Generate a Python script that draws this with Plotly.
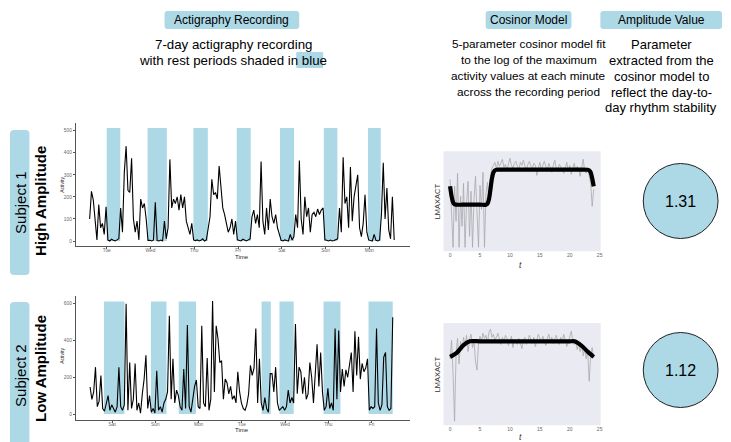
import plotly.graph_objects as go

W, H = 731, 442
FONT = "Liberation Sans, Arial, Helvetica, sans-serif"


def X(px):
    return px / W


def Y(py):
    return 1 - py / H


# ---------------- data ----------------
# Subject 1 actigraphy (hourly activity counts), first sample at day offset below
act1_start_day = -0.39
act1 = [100, 225, 185, 90, 5, 165, 60, 80, 30, 155,
        5, 0, 8, 3, 0, 5, 10,
        150, 40, 310, 430, 230, 220, 375, 100, 40, 90, 5, 190, 150, 170, 100,
        3,
        3, 0, 5, 175, 2, 0, 4, 0, 90, 10,
        60, 370, 150, 190, 170, 200, 140, 210, 150, 200, 90, 60, 30, 80,
        5, 2, 5, 0, 3, 10, 0, 5, 60,
        110, 280, 210, 220, 190, 340, 250, 150, 120, 70, 40, 60, 100, 30, 90, 5,
        3, 0, 8, 2, 0, 5, 10,
        110, 140, 80, 120, 60, 360, 90, 30, 150, 50, 190, 110, 80, 120, 60, 30,
        3, 0, 5, 2, 0, 30, 5, 20,
        120, 60, 365, 100, 30, 200, 110, 150, 40, 120, 130, 110, 145, 120, 140, 150, 5,
        3, 0, 4, 0, 2, 5, 10,
        150, 40, 380, 170, 200, 60, 335, 90, 200, 250, 300, 60, 20, 80, 210, 40, 5,
        2, 0, 30, 3, 0, 5, 120,
        355, 100, 240, 50, 10, 200, 5]
days1 = ["Tue", "Wed", "Thu", "Fri", "Sat", "Sun", "Mon"]
rest1_start = [0.0, 0.934, 1.98, 2.97, 3.96, 4.96, 5.97]
rest1_end = [0.31, 1.374, 2.31, 3.29, 4.28, 5.27, 6.26]
rest1_top = 512

# Subject 2 actigraphy
act2_start_day = -0.51
act2 = [147, 80, 120, 255, 40, 70, 210, 30, 15, 50,
        100, 20, 50, 30, 10, 40, 255, 40, 20, 50,
        600, 20, 280, 30, 80, 275, 20, 60, 5, 110,
        190, 320, 30, 100, 10, 30, 5, 235, 20, 40,
        10, 60, 80, 120, 535, 80, 300, 60, 130, 100,
        40, 20, 245, 30, 485, 40, 10, 80, 150, 185,
        40, 30, 480, 60, 40, 305, 20, 80, 615, 120,
        480, 410, 280, 290, 80, 190, 170, 110, 150, 80,
        100, 60, 230, 120, 60,
        30, 20, 50, 110, 265, 210, 250, 465, 60, 300,
        60, 20, 90, 30, 10, 220, 220, 120, 255, 60,
        20, 30, 40, 20, 40, 130, 60, 90, 60, 490,
        110, 255, 230, 110, 200, 80, 110, 280, 200, 60,
        210, 380, 150, 335, 120, 20, 40, 140, 30, 60,
        20, 465, 80, 455, 120, 245, 150, 240, 200, 270,
        335, 120, 450, 210, 420, 190, 275, 230, 250, 300,
        20, 40, 30, 40, 465, 60, 20, 50, 310, 335,
        40, 20, 30, 527]
days2 = ["Sat", "Sun", "Mon", "Tue", "Wed", "Thu", "Fri"]
rest2_start = [-0.19, 0.897, 1.54, 3.457, 3.87, 4.89, 5.93]
rest2_end = [0.285, 1.257, 1.94, 3.67, 4.2, 5.28, 6.49]
rest2_top = 613

# Cosinor panels: log max activity per time of day (every 15 min), arbitrary units
cos_step_h = 0.25
lmax1 = [7.2, 4.0, 0.4, 6.5, 3.0, 7.8, 0.4, 5.5, 2.5, 6.8, 0.4, 4.8, 7.0, 1.5, 6.0, 0.4,
         5.2, 7.5, 3.2, 0.4, 6.6, 4.2, 7.9, 0.4, 5.8, 6.9,
         5.0, 7.5, 8.3, 8.6, 8.9, 8.2, 9.0, 8.5, 8.8, 9.2,
         8.4, 8.7, 8.1, 8.9, 9.3, 8.6, 8.3, 8.8, 9.0, 8.5,
         8.2, 8.9, 8.6, 9.1, 8.4, 8.0, 8.7, 9.0, 8.5, 8.3,
         8.8, 8.6, 7.6, 8.4, 8.9, 8.2, 8.7, 9.0, 8.5, 8.1,
         8.8, 8.4, 7.9, 8.6, 9.1, 8.3, 8.0, 8.7, 8.5, 8.2,
         7.8, 8.4, 8.9, 8.1, 8.6, 7.7, 8.3, 8.8, 8.0, 8.5,
         8.2, 7.5, 8.4, 9.2, 8.0, 7.8, 8.3, 7.6, 6.8, 4.5,
         6.2]
fit1_t = [0, 0.25, 0.5, 0.75, 1.0, 2.0, 3.5, 5.0, 6.0, 6.25, 6.5, 6.75, 7.0, 7.25, 7.5,
          7.75, 8.5, 12, 16, 20, 23.0, 23.25, 23.5, 23.75, 24.0]
fit1_v = [6.5, 5.5, 4.9, 4.7, 4.66, 4.66, 4.66, 4.66, 4.66, 4.75, 5.2, 6.2, 7.3, 7.9, 8.1,
          8.16, 8.16, 8.16, 8.16, 8.16, 8.16, 8.1, 7.9, 7.3, 6.5]

lmax2 = [6.5, 8.3, 5.0, 0.4, 7.0, 8.5, 6.0, 8.2,
         7.4, 8.6, 7.8, 8.8, 7.2, 8.4, 8.9, 7.6,
         8.3, 6.2, 5.4, 8.0, 8.7, 8.2, 9.0, 8.5,
         8.8, 8.1, 9.1, 9.4, 8.6, 8.9, 8.3, 8.7,
         9.0, 8.4, 7.9, 8.6, 8.2, 8.8, 8.5, 7.8,
         8.3, 8.7, 7.6, 8.4, 8.1, 7.9, 8.5, 8.0,
         7.5, 8.3, 8.6, 7.9, 8.2, 8.8, 8.4, 8.0,
         8.6, 7.7, 8.3, 8.9, 8.5, 8.1, 8.7, 8.3,
         7.8, 8.5, 8.9, 8.2, 8.6, 8.0, 8.4, 8.8,
         8.3, 7.9, 8.6, 8.2, 8.9, 8.4, 7.7, 8.1,
         8.6, 9.2, 8.3, 7.9, 8.2, 7.4, 8.0, 7.2,
         7.8, 6.8, 7.5, 6.5, 7.3, 4.3, 6.9, 7.6,
         6.6]
fit2_t = [0, 1.1, 2.2, 3.3, 5, 10, 15, 20, 20.8, 21.9, 23.0, 24.0]
fit2_v = [6.68, 7.07, 7.82, 8.21, 8.21, 8.21, 8.21, 8.21, 8.21, 7.82, 7.2, 6.68]

amplitudes = [1.31, 1.12]
subjects = ["Subject 1", "Subject 2"]
groups = ["High Amplitude", "Low Amplitude"]
cos_ticks = [0, 5, 10, 15, 20, 25]

headers = ["Actigraphy Recording", "Cosinor Model", "Amplitude Value"]
desc_act = ["7-day actigraphy recording", "with rest periods shaded in blue"]
desc_cos = ["5-parameter cosinor model fit", "to the log of the maximum",
            "activity values at each minute", "across the recording period"]
desc_amp = ["Parameter", "extracted from the", "cosinor model to",
            "reflect the day-to-", "day rhythm stability"]

# ---------------- figure ----------------
fig = go.Figure()

x1 = [act1_start_day + i / 24 for i in range(len(act1))]
x2 = [act2_start_day + i / 24 for i in range(len(act2))]
fig.add_trace(go.Scatter(x=x1, y=act1, mode="lines", line=dict(color="black", width=1.1),
                         xaxis="x", yaxis="y", hoverinfo="skip"))
fig.add_trace(go.Scatter(x=x2, y=act2, mode="lines", line=dict(color="black", width=1.1),
                         xaxis="x2", yaxis="y2", hoverinfo="skip"))

t1 = [i * cos_step_h for i in range(len(lmax1))]
t2 = [i * cos_step_h for i in range(len(lmax2))]
fig.add_trace(go.Scatter(x=t1, y=lmax1, mode="lines", line=dict(color="#a8a8ac", width=0.8),
                         xaxis="x3", yaxis="y3", hoverinfo="skip"))
fig.add_trace(go.Scatter(x=fit1_t, y=fit1_v, mode="lines",
                         line=dict(color="black", width=4.2, shape="spline", smoothing=0.8),
                         xaxis="x3", yaxis="y3", hoverinfo="skip"))
fig.add_trace(go.Scatter(x=t2, y=lmax2, mode="lines", line=dict(color="#a8a8ac", width=0.8),
                         xaxis="x4", yaxis="y4", hoverinfo="skip"))
fig.add_trace(go.Scatter(x=fit2_t, y=fit2_v, mode="lines",
                         line=dict(color="black", width=4.2, shape="spline", smoothing=0.8),
                         xaxis="x4", yaxis="y4", hoverinfo="skip"))

act_ax = dict(showgrid=False, zeroline=False, showline=True, linecolor="#555", linewidth=1,
              ticks="outside", ticklen=2, tickcolor="#555", tickwidth=0.8,
              tickfont=dict(size=4.8, color="#666", family=FONT))
cos_x = dict(showgrid=False, zeroline=False, showline=False, ticks="", tickvals=cos_ticks,
             tickfont=dict(size=5, color="#666", family=FONT))
cos_y = dict(showgrid=False, zeroline=False, showline=False, showticklabels=False, ticks="",
             range=[0, 10])

fig.update_layout(
    width=W, height=H, margin=dict(l=0, r=0, t=0, b=0),
    paper_bgcolor="white", plot_bgcolor="white", showlegend=False,
    font=dict(family=FONT, color="black"),
    xaxis=dict(domain=[X(68), X(402.7)], range=[-0.706, 6.92], tickvals=list(range(7)),
               ticktext=days1, anchor="y", ticklabelstandoff=-2, **act_ax),
    yaxis=dict(domain=[Y(237.7), Y(115)], range=[-21.3, 535],
               tickvals=[0, 100, 200, 300, 400, 500], anchor="x", **act_ax),
    xaxis2=dict(domain=[X(68), X(402.7)], range=[-0.84, 6.88], tickvals=list(range(7)),
                ticktext=days2, anchor="y2", ticklabelstandoff=-2, **act_ax),
    yaxis2=dict(domain=[Y(411.7), Y(287.7)], range=[-31, 644], tickvals=[0, 200, 400, 600],
                anchor="x2", **act_ax),
    xaxis3=dict(domain=[X(436.7), X(594.3)], range=[-1.1, 25.17], anchor="y3", **cos_x),
    yaxis3=dict(domain=[Y(243.3), Y(143.3)], anchor="x3", **cos_y),
    xaxis4=dict(domain=[X(436.7), X(594.3)], range=[-1.1, 25.17], anchor="y4", **cos_x),
    yaxis4=dict(domain=[Y(417.3), Y(315)], anchor="x4", **cos_y),
)

BLUE = "#ADD8E6"
shapes = []


def rrect(x0, y0, x1, y1, r, color):
    p = (f"M {X(x0 + r)},{Y(y0)} L {X(x1 - r)},{Y(y0)} Q {X(x1)},{Y(y0)} {X(x1)},{Y(y0 + r)} "
         f"L {X(x1)},{Y(y1 - r)} Q {X(x1)},{Y(y1)} {X(x1 - r)},{Y(y1)} "
         f"L {X(x0 + r)},{Y(y1)} Q {X(x0)},{Y(y1)} {X(x0)},{Y(y1 - r)} "
         f"L {X(x0)},{Y(y0 + r)} Q {X(x0)},{Y(y0)} {X(x0 + r)},{Y(y0)} Z")
    return dict(type="path", xref="paper", yref="paper", path=p, fillcolor=color,
                line=dict(width=0), layer="below")


for s, e in zip(rest1_start, rest1_end):
    shapes.append(dict(type="rect", xref="x", yref="y", x0=s, x1=e, y0=0, y1=rest1_top,
                       fillcolor=BLUE, line=dict(width=0), layer="below"))
for s, e in zip(rest2_start, rest2_end):
    shapes.append(dict(type="rect", xref="x2", yref="y2", x0=s, x1=e, y0=0, y1=rest2_top,
                       fillcolor=BLUE, line=dict(width=0), layer="below"))
for ax in ["3", "4"]:
    shapes.append(dict(type="rect", xref=f"x{ax} domain", yref=f"y{ax} domain",
                       x0=0, x1=1, y0=0, y1=1,
                       fillcolor="#EAEAF2", line=dict(width=0), layer="below"))

COL_ACT, COL_COS, COL_AMP = 224.5, 522, 655
# header boxes
shapes.append(rrect(157, 3, 292, 21, 3, BLUE))
shapes.append(rrect(COL_COS - 43, 3, COL_COS + 43, 21, 3, BLUE))
shapes.append(rrect(COL_AMP - 61, 3, COL_AMP + 61, 21, 3, BLUE))
# "blue" highlight
shapes.append(rrect(289, 44, 316, 60, 1, BLUE))
# subject boxes
shapes.append(rrect(2, 122, 21.5, 267, 4, BLUE))
shapes.append(rrect(2, 294, 21.5, 441, 4, BLUE))
# amplitude circles
circle_cy = [193, 362]
for cy in circle_cy:
    shapes.append(dict(type="circle", xref="paper", yref="paper", x0=X(637), x1=X(712),
                       y0=Y(cy + 37.5), y1=Y(cy - 37.5), fillcolor=BLUE,
                       line=dict(color="#222", width=1)))
fig.update_layout(shapes=shapes)

ann = []


def txt(x, y, s, size=13, angle=0, bold=False, color="black", italic=False):
    t = f"<b>{s}</b>" if bold else s
    t = f"<i>{t}</i>" if italic else t
    ann.append(dict(x=X(x), y=Y(y), xref="paper", yref="paper", text=t, showarrow=False,
                    xanchor="center", yanchor="middle", textangle=angle,
                    font=dict(size=size, color=color, family=FONT)))


for h, cx in zip(headers, [COL_ACT, COL_COS, COL_AMP]):
    txt(cx, 12, h, size=12)

for i, line in enumerate(desc_act):
    txt(COL_ACT + 1.5, 36 + 16 * i, line, size=13.3)
for i, line in enumerate(desc_cos):
    txt(COL_COS, 36 + 16 * i, line, size=11.8)
for i, line in enumerate(desc_amp):
    txt(COL_AMP, 36 + 16 * i, line, size=13)

label_cy = [194, 367]
group_cy = [193, 360]
for sub, grp, lc, gc in zip(subjects, groups, label_cy, group_cy):
    txt(12, lc, sub, size=15, angle=-90)
    txt(32, gc, grp, size=15, angle=-90, bold=True)

for amp, cy in zip(amplitudes, circle_cy):
    txt(674.5, cy, f"{amp:.2f}", size=16)

# axis titles
txt(54, 177, "Activity", size=5, angle=-90, color="#222")
txt(235, 248.5, "Time", size=6, color="#222")
txt(54, 348, "Activity", size=5, angle=-90, color="#222")
txt(235, 422, "Time", size=6, color="#222")
txt(430.5, 193, "LMAXACT", size=7.5, angle=-90, color="#333")
txt(514, 256.5, "t", size=8.5, italic=True, color="#333")
txt(430.5, 366, "LMAXACT", size=7.5, angle=-90, color="#333")
txt(514, 428.5, "t", size=8.5, italic=True, color="#333")

fig.update_layout(annotations=ann)
fig.write_html("out.html")
